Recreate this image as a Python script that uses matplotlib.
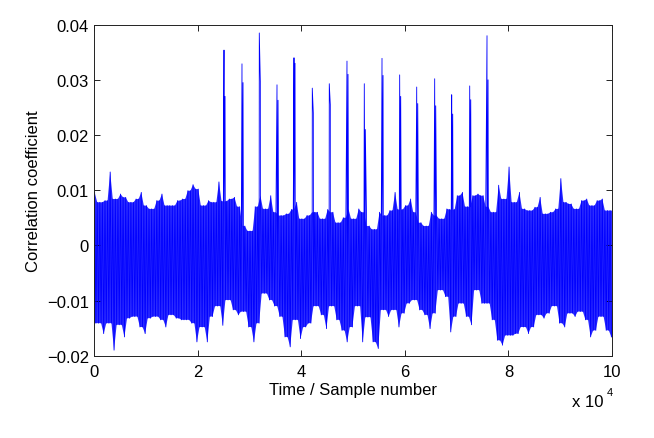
import numpy as np
import matplotlib
matplotlib.use("Agg")
from matplotlib import pyplot as plt

plt.rcParams['font.family'] = ['Liberation Sans', 'DejaVu Sans']

# noise band: max / min of each 1000-sample bin
bin_width = 1000
band_hi = [0.0096, 0.0078, 0.0081, 0.0133, 0.0084, 0.0093, 0.0087, 0.0078, 0.0084, 0.0096,
           0.0072, 0.0066, 0.0081, 0.0093, 0.0072, 0.0072, 0.0081, 0.0084, 0.0099, 0.0110,
           0.0102, 0.0072, 0.0081, 0.0078, 0.0115, 0.0080, 0.0084, 0.0087, 0.0070, 0.0035,
           0.0026, 0.0070, 0.0090, 0.0066, 0.0090, 0.0060, 0.0054, 0.0057, 0.0065, 0.0078,
           0.0048, 0.0054, 0.0060, 0.0060, 0.0048, 0.0065, 0.0060, 0.0041, 0.0050, 0.0066,
           0.0048, 0.0066, 0.0060, 0.0035, 0.0029, 0.0060, 0.0054, 0.0063, 0.0096, 0.0065,
           0.0072, 0.0084, 0.0060, 0.0041, 0.0035, 0.0060, 0.0054, 0.0048, 0.0066, 0.0065,
           0.0090, 0.0096, 0.0070, 0.0090, 0.0093, 0.0090, 0.0070, 0.0060, 0.0109, 0.0084,
           0.0142, 0.0078, 0.0096, 0.0066, 0.0063, 0.0069, 0.0087, 0.0057, 0.0060, 0.0066,
           0.0121, 0.0078, 0.0075, 0.0066, 0.0081, 0.0084, 0.0072, 0.0081, 0.0084, 0.0063]
band_lo = [-0.0141, -0.0160, -0.0141, -0.0190, -0.0144, -0.0166, -0.0132, -0.0129, -0.0148, -0.0160,
           -0.0132, -0.0129, -0.0135, -0.0148, -0.0126, -0.0132, -0.0135, -0.0135, -0.0141, -0.0175,
           -0.0148, -0.0175, -0.0129, -0.0110, -0.0145, -0.0099, -0.0117, -0.0126, -0.0120, -0.0148,
           -0.0175, -0.0141, -0.0087, -0.0099, -0.0110, -0.0129, -0.0166, -0.0184, -0.0135, -0.0169,
           -0.0148, -0.0141, -0.0110, -0.0126, -0.0151, -0.0110, -0.0135, -0.0154, -0.0175, -0.0148,
           -0.0110, -0.0175, -0.0130, -0.0175, -0.0187, -0.0117, -0.0129, -0.0117, -0.0148, -0.0123,
           -0.0105, -0.0099, -0.0117, -0.0126, -0.0151, -0.0123, -0.0081, -0.0093, -0.0157, -0.0129,
           -0.0105, -0.0129, -0.0144, -0.0081, -0.0105, -0.0105, -0.0135, -0.0172, -0.0181, -0.0163,
           -0.0163, -0.0160, -0.0148, -0.0160, -0.0148, -0.0126, -0.0132, -0.0123, -0.0110, -0.0141,
           -0.0148, -0.0123, -0.0129, -0.0120, -0.0135, -0.0166, -0.0154, -0.0129, -0.0154, -0.0166]

# correlation peaks (sample number, peak value, value of the sample next to it)
peak_pos = [25100, 28570, 31910, 35330, 38610, 42140, 45420, 48840,
            52180, 55600, 59010, 62300, 65770, 69050, 72530, 75870]
peak_val = [0.0354, 0.0329, 0.0385, 0.0291, 0.0340, 0.0285, 0.0293, 0.0334,
            0.0293, 0.0339, 0.0309, 0.0287, 0.0302, 0.0273, 0.0289, 0.0380]
peak_next = [0.0270, 0.0295, 0.0297, 0.0263, 0.0330, 0.0240, 0.0255, 0.0310,
             0.0210, 0.0308, 0.0270, 0.0257, 0.0253, 0.0238, 0.0264, 0.0300]

hi = np.array(band_hi)
lo = np.array(band_lo)
n = len(hi)
start = np.arange(n) * bin_width

# valleys between two neighbouring extremes
mid_hi = np.minimum(hi, np.append(hi[1:], hi[-1]))
mid_lo = np.maximum(lo, np.insert(lo[:-1], 0, lo[0]))


def interleave(xa, ya, xb, yb):
    x = np.concatenate([xa, xb])
    y = np.concatenate([ya, yb])
    o = np.argsort(x, kind='stable')
    return x[o], y[o]


# ragged outline of the dense band
top_x, top_y = interleave(start + 125, hi, start + 625, mid_hi)
bot_x, bot_y = interleave(start + 375, mid_lo, start + 875, lo)
poly_x = np.concatenate([[0], top_x, [n * bin_width, n * bin_width], bot_x[::-1], [0]])
poly_y = np.concatenate([[top_y[0]], top_y, [top_y[-1], bot_y[-1]], bot_y[::-1], [bot_y[0]]])

# trace: zigzag through the same levels, peaks slotted in
xs, ys = interleave(np.concatenate([start + 125, start + 375, start + 625, start + 875]),
                    np.concatenate([hi, mid_lo, mid_hi, lo]),
                    np.concatenate([peak_pos, np.array(peak_pos) + 200]),
                    np.concatenate([peak_val, peak_next]))

fig = plt.figure(figsize=(6.54, 4.39), dpi=100)
ax = fig.add_axes([0.1437, 0.1875, 0.7921, 0.754])

ax.fill(poly_x, poly_y, color='#2b2bff', lw=0)
ax.plot(xs, ys, color='#0000ff', lw=0.6)

ax.set_xlim(0, 100000)
ax.set_ylim(-0.02, 0.04)
ax.set_xticks(np.arange(0, 100001, 20000))
ax.set_xticklabels(['0', '2', '4', '6', '8', '10'])
ax.set_yticks([-0.02, -0.01, 0, 0.01, 0.02, 0.03, 0.04])
ax.set_yticklabels(['\u22120.02', '\u22120.01', '0', '0.01', '0.02', '0.03', '0.04'])
ax.tick_params(direction='in', top=True, right=True, length=4, width=0.6,
               labelsize=12, colors='k')
ax.tick_params(axis='x', pad=6)
for s in ax.spines.values():
    s.set_linewidth(0.7)
    s.set_color('#222222')

ax.set_xlabel('Time / Sample number', fontsize=12, labelpad=2)
ax.set_ylabel('Correlation coefficient', fontsize=12, labelpad=4)

fig.text(0.875, 0.073, 'x 10', fontsize=12, va='baseline')
fig.text(0.927, 0.097, '4', fontsize=8, va='baseline')

fig.savefig('out.png', dpi=100)
